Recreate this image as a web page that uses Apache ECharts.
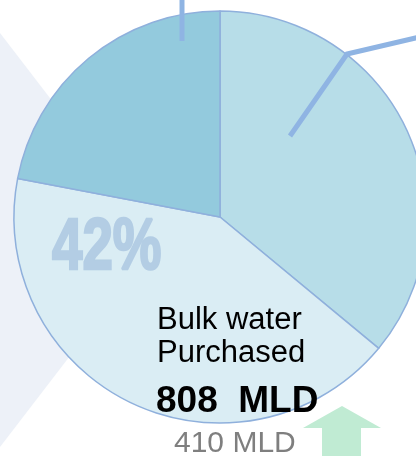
<!DOCTYPE html>
<html>
<head>
<meta charset="utf-8">
<title>Bulk water purchased</title>
<script src="https://cdn.jsdelivr.net/npm/echarts@6/dist/echarts.min.js"></script>
<style>
  html, body { margin: 0; padding: 0; background: #ffffff; }
  #chart { width: 416px; height: 456px; }
</style>
</head>
<body>
<div id="chart"></div>
<script>
// slice shares, clockwise from 12 o'clock
const sliceNames = ['Other A', 'Bulk water purchased', 'Other B']
const sliceValues = [36, 42, 22]
const sliceColors = ['#b7dde8', '#daedf4', '#93cadd']

const titleLines = ['Bulk water', 'Purchased']
const currentValue = '808  MLD'
const previousValue = '410 MLD'

const chart = echarts.init(document.getElementById('chart'))

const total = sliceValues.reduce((a, b) => a + b, 0)
const bigPct = Math.round(sliceValues[1] / total * 100) + '%'

const lineColor = '#8fb4e3'
const font = '"Liberation Sans", Arial, sans-serif'

let option = {
  animation: false,
  backgroundColor: '#ffffff',
  series: [
    {
      type: 'pie',
      center: [220, 217],
      radius: 206,
      startAngle: 90,
      clockwise: true,
      silent: true,
      z: 2,
      label: { show: false },
      labelLine: { show: false },
      itemStyle: {
        borderColor: '#8fb0dc',
        borderWidth: 1.5
      },
      data: sliceValues.map((v, i) => ({
        name: sliceNames[i],
        value: v,
        itemStyle: { color: sliceColors[i] }
      }))
    }
  ],
  graphic: [
    // pale chevron behind the pie
    {
      type: 'polygon',
      z: -10,
      silent: true,
      shape: { points: [[0, 33], [159, 240], [0, 447]] },
      style: { fill: '#edf1f8' }
    },
    {
      type: 'polyline',
      z: 100,
      shape: { points: [[182, 0], [182, 41]] },
      style: { stroke: lineColor, lineWidth: 5, fill: null }
    },
    {
      type: 'polyline',
      z: 100,
      shape: { points: [[290, 136], [347, 54], [420, 37]] },
      style: { stroke: lineColor, lineWidth: 5, fill: null }
    },
    {
      type: 'text',
      z: 100,
      x: 52,
      y: 285,
      scaleX: 0.76,
      style: {
        text: bigPct,
        fontFamily: font,
        fontWeight: 'bold',
        fontSize: 72,
        fill: '#b3cde4',
        stroke: '#b3cde4',
        lineWidth: 2.5,
        verticalAlign: 'bottom'
      }
    },
    {
      type: 'text',
      z: 100,
      x: 157,
      y: 336,
      style: {
        text: titleLines[0],
        fontFamily: font,
        fontSize: 31,
        fill: '#000000',
        verticalAlign: 'bottom'
      }
    },
    {
      type: 'text',
      z: 100,
      x: 157,
      y: 369,
      style: {
        text: titleLines[1],
        fontFamily: font,
        fontSize: 31,
        fill: '#000000',
        verticalAlign: 'bottom'
      }
    },
    {
      type: 'text',
      z: 100,
      x: 156,
      y: 420,
      style: {
        text: currentValue,
        fontFamily: font,
        fontWeight: 'bold',
        fontSize: 37,
        fill: '#000000',
        verticalAlign: 'bottom'
      }
    },
    {
      type: 'text',
      z: 100,
      x: 174,
      y: 459,
      style: {
        text: previousValue,
        fontFamily: font,
        fontSize: 30,
        fill: '#7f7f7f',
        verticalAlign: 'bottom'
      }
    },
    // green up arrow
    {
      type: 'polygon',
      z: 100,
      shape: {
        points: [[342, 406], [381, 428], [361, 428], [361, 456], [322, 456], [322, 428], [303, 428]]
      },
      style: { fill: '#c0ebd3' }
    }
  ]
}

chart.setOption(option)
</script>
</body>
</html>
